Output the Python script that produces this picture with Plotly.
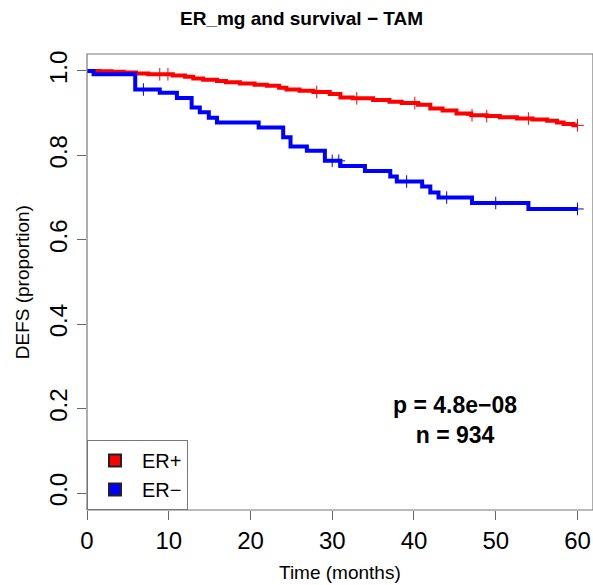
import plotly.graph_objects as go

# Kaplan-Meier step points (time in months, survival proportion)
er_pos_time = [0, 1.5, 3.0, 4.5, 6.0, 7.5, 10.5, 12.0, 13.0, 14.2, 15.9, 17.0, 18.7, 20.5,
               22.0, 23.5, 24.4, 26.0, 27.7, 29.7, 31.0, 32.5, 35.0, 37.0, 38.5, 40.5,
               42.0, 43.5, 45.2, 47.0, 48.9, 50.5, 52.6, 54.5, 56.3, 57.5, 58.3, 59.5, 60.0]
er_pos_surv = [1.0, 0.999, 0.998, 0.996, 0.994, 0.992, 0.989, 0.986, 0.982, 0.979, 0.976,
               0.973, 0.970, 0.967, 0.965, 0.960, 0.956, 0.953, 0.950, 0.945, 0.937, 0.935,
               0.931, 0.927, 0.924, 0.920, 0.911, 0.906, 0.899, 0.895, 0.893, 0.890, 0.887,
               0.885, 0.882, 0.878, 0.874, 0.871, 0.871]

er_neg_time = [0, 0.8, 5.9, 8.9, 11.0, 12.8, 13.8, 14.9, 15.9, 21.0, 24.0, 24.9, 26.9,
               29.1, 31.0, 34.0, 37.1, 37.9, 41.0, 42.0, 43.0, 47.1, 54.0, 60.0]
er_neg_surv = [1.0, 0.992, 0.956, 0.948, 0.936, 0.913, 0.902, 0.889, 0.878, 0.866, 0.843,
               0.821, 0.811, 0.787, 0.775, 0.763, 0.750, 0.738, 0.726, 0.712, 0.700,
               0.687, 0.673, 0.673]

# Censoring times
er_pos_cens = [8.9, 9.9, 28.1, 33.0, 40.1, 47.1, 48.9, 54.0, 60.0]
er_neg_cens = [6.9, 30.0, 30.8, 39.1, 44.0, 50.0, 60.0]

group_names = ["ER+", "ER\u2212"]
group_colors = ["#ff0000", "#0000ff"]
p_value_text = "p = 4.8e\u221208"
n_text = "n = 934"

FONT = "Liberation Sans, Arial, sans-serif"


def surv_at(times, survs, t):
    val = survs[0]
    for ti, si in zip(times, survs):
        if ti <= t:
            val = si
    return val


fig = go.Figure()

series = [
    (er_pos_time, er_pos_surv, er_pos_cens, group_names[0], group_colors[0]),
    (er_neg_time, er_neg_surv, er_neg_cens, group_names[1], group_colors[1]),
]

for times, survs, cens, name, color in series:
    fig.add_trace(go.Scatter(
        x=times, y=survs, mode="lines", line=dict(color=color, width=4, shape="hv"),
        showlegend=False, hoverinfo="skip"))
    fig.add_trace(go.Scatter(
        x=cens, y=[surv_at(times, survs, c) for c in cens], mode="markers",
        marker=dict(symbol="cross-thin", size=9, color=color,
                    line=dict(width=1, color=color)),
        showlegend=False, hoverinfo="skip"))

# Legend entries as filled squares
for name, color in zip(group_names, group_colors):
    fig.add_trace(go.Scatter(
        x=[None], y=[None], mode="markers", name=name,
        marker=dict(symbol="square", size=15, color=color,
                    line=dict(width=1, color="#222222"))))

fig.add_annotation(
    x=45, y=0.172, xref="x", yref="y",
    text=f"<b>{p_value_text}<br>{n_text}</b>", showarrow=False,
    font=dict(family=FONT, size=23, color="black"), align="center")

fig.add_annotation(
    x=0.423, y=1.077, xref="paper", yref="paper",
    text="<b>ER_mg and survival \u2212 TAM</b>", showarrow=False,
    font=dict(family=FONT, size=19, color="black"), xanchor="center", yanchor="middle")

fig.add_annotation(
    x=0.5, y=-0.136, xref="paper", yref="paper",
    text="Time (months)", showarrow=False,
    font=dict(family=FONT, size=19, color="black"), xanchor="center", yanchor="middle")

fig.add_annotation(
    x=-0.128, y=0.5, xref="paper", yref="paper", textangle=-90,
    text="DEFS (proportion)", showarrow=False,
    font=dict(family=FONT, size=19, color="black"), xanchor="center", yanchor="middle")

# Plot frame
fig.add_shape(type="rect", xref="paper", yref="paper", x0=0, y0=0, x1=1, y1=1,
              line=dict(color="#777777", width=1.2), layer="above")

fig.update_layout(
    width=593, height=585,
    margin=dict(l=87, r=0, t=54, b=75),
    plot_bgcolor="white", paper_bgcolor="white",
    font=dict(family=FONT, color="black"),
    legend=dict(x=0, y=0, xanchor="left", yanchor="bottom",
                bordercolor="#777777", borderwidth=1, bgcolor="white",
                font=dict(family=FONT, size=20, color="black"),
                itemsizing="constant", itemwidth=44, tracegroupgap=0),
)

fig.update_xaxes(
    range=[0, 61.9], tickvals=[0, 10, 20, 30, 40, 50, 60],
    ticks="outside", ticklen=9, tickcolor="#666666", tickwidth=1,
    showgrid=False, zeroline=False, showline=False,
    tickfont=dict(family=FONT, size=24, color="black"))

fig.update_yaxes(
    range=[-0.04, 1.04], tickvals=[0, 0.2, 0.4, 0.6, 0.8, 1.0], tickformat=".1f",
    tickangle=-90, ticks="outside", ticklen=9, tickcolor="#666666", tickwidth=1,
    showgrid=False, zeroline=False, showline=False,
    tickfont=dict(family=FONT, size=24, color="black"))

fig.write_html("out.html")
